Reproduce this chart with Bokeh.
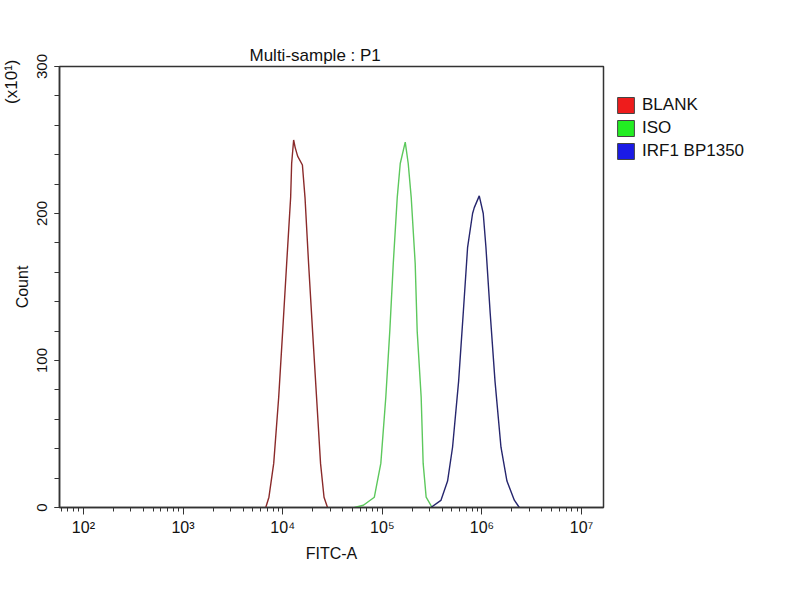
import math
from bokeh.plotting import figure
from bokeh.models import (FixedTicker, Legend, LegendItem, Title,
                          ColumnDataSource, CustomJSTickFormatter)
from bokeh.embed import file_html
from bokeh.resources import INLINE

# ---------------- data ----------------
# x positions as log10(FITC-A), y as Count (x10^1)
blank_log = [3.83, 3.862, 3.91, 3.96, 4.00, 4.04, 4.08, 4.09, 4.11, 4.125, 4.15, 4.198, 4.224, 4.26, 4.30, 4.34, 4.38, 4.415, 4.45]
blank_cnt = [0, 7, 30, 75, 120, 166, 211, 234, 250, 245, 239, 233, 211, 166, 120, 75, 30, 7, 0]

iso_log = [4.72, 4.81, 4.92, 4.985, 5.035, 5.075, 5.11, 5.15, 5.18, 5.23, 5.26, 5.29, 5.33, 5.35, 5.39, 5.41, 5.44, 5.50]
iso_cnt = [0, 1.5, 7, 30, 75, 120, 166, 211, 234, 248.5, 234, 211, 166, 120, 75, 30, 7, 0]

irf_log = [5.487, 5.588, 5.655, 5.705, 5.766, 5.812, 5.856, 5.906, 5.923, 5.973, 6.013, 6.040, 6.083, 6.131, 6.191, 6.251, 6.325, 6.375]
irf_cnt = [0, 4.8, 18, 41, 86, 132, 177, 200, 204, 212, 200, 177, 132, 86, 41, 18, 5, 0]

series_names = ["BLANK", "ISO", "IRF1 BP1350"]
line_colors = ["#8a2a2a", "#5cc85c", "#26266e"]
legend_colors = ["#ee1c1c", "#22ee22", "#1a1ae6"]

x_major_ticks = [1e2, 1e3, 1e4, 1e5, 1e6, 1e7]
x_minor_ticks = [m * 10 ** d for d in range(1, 7) for m in range(2, 10)]
y_major_ticks = [0, 100, 200, 300]
y_minor_ticks = list(range(0, 301, 20))

x_lo, x_hi = 10 ** 1.76, 10 ** 7.22

FONT = "Liberation Sans"
AXC = "#333333"
TXT = "#111111"

p = figure(frame_width=544, frame_height=441, x_axis_type="log",
           x_range=(x_lo, x_hi), y_range=(0, 300),
           output_backend="svg", toolbar_location=None,
           min_border_left=59, min_border_right=181,
           min_border_top=66, min_border_bottom=77)

p.xgrid.visible = False
p.ygrid.visible = False
p.outline_line_color = AXC
p.outline_line_width = 1.5
p.background_fill_color = "white"
p.border_fill_color = "white"

p.title.text = "Multi-sample : P1"
p.title.align = "left"
p.title.offset = 190
p.title.standoff = 4
p.title.text_font = FONT
p.title.text_font_size = "17px"
p.title.text_font_style = "normal"
p.title.text_color = TXT

series = [(blank_log, blank_cnt), (iso_log, iso_cnt), (irf_log, irf_cnt)]
items = []
for (xs, ys), c, lc, name in zip(series, line_colors, legend_colors, series_names):
    xv = [10 ** v for v in xs]
    src = ColumnDataSource(dict(x=xv, y=ys))
    p.line("x", "y", source=src, line_color=c, line_width=1.4)
    # zero-size proxy at the curve's peak position (on the baseline) for the legend square
    k = ys.index(max(ys))
    r = p.quad(left=[xv[k]], right=[xv[k]], top=[0], bottom=[0],
               fill_color=lc, line_color="#444444", line_width=1)
    items.append(LegendItem(label=name, renderers=[r]))

legend = Legend(items=items, location="top_left", orientation="vertical",
                ncols=1,
                title=" ", title_text_font_size="9px", title_standoff=7,
                glyph_width=21, glyph_height=20, label_height=20,
                spacing=3, padding=0, margin=12, label_standoff=6,
                label_text_font=FONT, label_text_font_size="17px",
                label_text_color=TXT,
                border_line_alpha=0, background_fill_alpha=0)
p.add_layout(legend, "right")

# x axis
xa = p.xaxis[0]
xa.ticker = FixedTicker(ticks=x_major_ticks, minor_ticks=x_minor_ticks)
xa.formatter = CustomJSTickFormatter(code="""
const sup = {2:'\u00b2',3:'\u00b3',4:'\u2074',5:'\u2075',6:'\u2076',7:'\u2077'};
const e = Math.round(Math.log10(tick));
return '10' + sup[e];
""")
xa.axis_label = "FITC-A"
xa.axis_label_text_font = FONT
xa.axis_label_text_font_style = "normal"
xa.axis_label_text_font_size = "16px"
xa.axis_label_text_color = TXT
xa.axis_label_standoff = 6
xa.major_label_text_font = FONT
xa.major_label_text_font_size = "16px"
xa.major_label_text_color = TXT
xa.major_label_standoff = 4
xa.axis_line_color = AXC
xa.axis_line_width = 1.5
xa.major_tick_line_color = AXC
xa.minor_tick_line_color = AXC
xa.major_tick_in = 0
xa.major_tick_out = 7
xa.minor_tick_in = 0
xa.minor_tick_out = 4

# y axis
ya = p.yaxis[0]
ya.ticker = FixedTicker(ticks=y_major_ticks, minor_ticks=y_minor_ticks)
ya.axis_label = "Count"
ya.axis_label_text_font = FONT
ya.axis_label_text_font_style = "normal"
ya.axis_label_text_font_size = "16px"
ya.axis_label_text_color = TXT
ya.axis_label_standoff = 3
ya.major_label_orientation = "vertical"
ya.major_label_text_font = FONT
ya.major_label_text_font_size = "15px"
ya.major_label_text_color = TXT
ya.major_label_standoff = 8
ya.axis_line_color = AXC
ya.axis_line_width = 1.5
ya.major_tick_line_color = AXC
ya.minor_tick_line_color = AXC
ya.major_tick_in = 0
ya.major_tick_out = 5
ya.minor_tick_in = 0
ya.minor_tick_out = 5

# multiplier note, top-left (left side title, overlapping the axis-label column)
mult = Title(text="(x10\u00b9)", align="right", standoff=-20, offset=-7,
             text_font=FONT, text_font_size="17px",
             text_font_style="normal", text_color=TXT)
p.add_layout(mult, "left")

open("out.html", "w").write(file_html(p, INLINE))
